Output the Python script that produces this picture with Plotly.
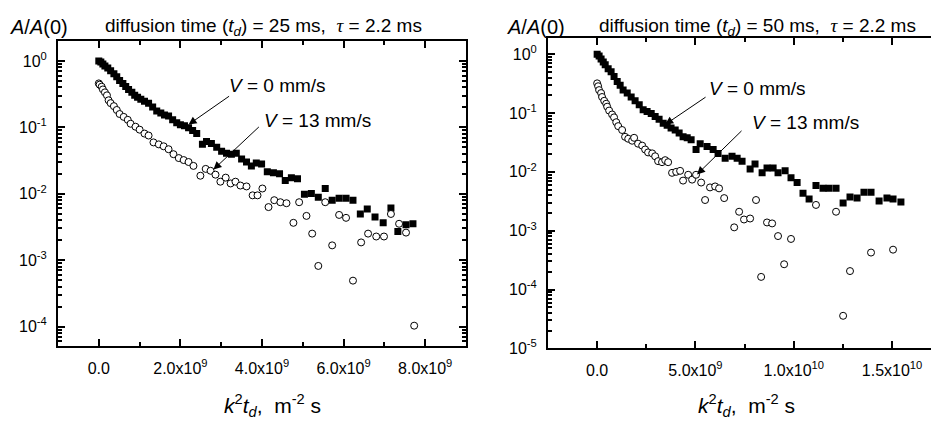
import numpy as np
import plotly.graph_objects as go

# ---------------- data (x in units of 1e9 m^-2 s) ----------------
# Left panel: t_d = 25 ms
left_v0_x = [0.00, 0.05, 0.10, 0.15, 0.22, 0.29, 0.37, 0.44, 0.51, 0.59, 0.66, 0.73, 0.81, 0.88, 0.95,
             1.03, 1.12, 1.22, 1.32, 1.42, 1.52, 1.61, 1.71, 1.81, 1.91, 2.00, 2.10, 2.20, 2.30, 2.40,
             2.54, 2.64, 2.76, 2.89, 3.01, 3.13, 3.25, 3.37, 3.50, 3.62, 3.74, 3.86, 3.99, 4.13, 4.28,
             4.43, 4.57, 4.72, 4.87, 5.04, 5.21, 5.38, 5.55, 5.72, 5.89, 6.06, 6.23, 6.41, 6.58, 6.77,
             6.97, 7.16, 7.33, 7.53, 7.70]
left_v0_y = [1.0, 0.967, 0.903, 0.844, 0.788, 0.712, 0.643, 0.581, 0.507, 0.457, 0.413, 0.373, 0.337, 0.304, 0.284,
             0.265, 0.248, 0.232, 0.202, 0.177, 0.165, 0.154, 0.149, 0.130, 0.117, 0.110, 0.106, 0.099, 0.0894, 0.0807,
             0.0555, 0.0615, 0.0574, 0.0501, 0.0438, 0.0409, 0.0395, 0.0409, 0.0333, 0.0301, 0.0263, 0.0291, 0.0281, 0.0214, 0.0207,
             0.0200, 0.0158, 0.0175, 0.0169, 0.0098, 0.0101, 0.00885, 0.0120, 0.0080, 0.00855, 0.00855, 0.0080, 0.00496, 0.00589, 0.00448,
             0.00365, 0.00608, 0.00269, 0.00341, 0.00353]

left_v13_x = [0.00, 0.02, 0.07, 0.10, 0.15, 0.20, 0.24, 0.29, 0.37, 0.44, 0.51, 0.61, 0.71, 0.78, 0.90,
              1.00, 1.12, 1.22, 1.34, 1.47, 1.59, 1.71, 1.83, 1.96, 2.08, 2.20, 2.32, 2.49, 2.62, 2.74,
              2.86, 2.98, 3.11, 3.23, 3.35, 3.47, 3.62, 3.77, 3.89, 4.01, 4.16, 4.30, 4.45, 4.60, 4.77,
              4.91, 5.09, 5.23, 5.38, 5.55, 5.72, 5.89, 6.06, 6.23, 6.43, 6.60, 6.80, 6.99, 7.16, 7.36,
              7.53, 7.73]
left_v13_y = [0.46, 0.44, 0.41, 0.373, 0.337, 0.304, 0.256, 0.232, 0.209, 0.183, 0.159, 0.144, 0.130, 0.1135, 0.1024,
              0.0925, 0.0807, 0.0754, 0.0594, 0.0555, 0.0519, 0.0469, 0.0395, 0.0345, 0.0322, 0.0301, 0.0263, 0.0187, 0.0237, 0.0222,
              0.0194, 0.0152, 0.0175, 0.0143, 0.0152, 0.0133, 0.0129, 0.00947, 0.00947, 0.0120, 0.0063, 0.0080, 0.00746, 0.0072, 0.00365,
              0.00746, 0.00464, 0.00251, 0.000818, 0.00746, 0.00167, 0.0048, 0.00434, 0.000491, 0.00185, 0.00251, 0.00227, 0.00227, 0.00496, 0.00353,
              0.0026, 0.000103]

# Right panel: t_d = 50 ms
right_v0_x = [0.00, 0.10, 0.20, 0.31, 0.41, 0.56, 0.71, 0.86, 1.02, 1.17, 1.32, 1.53, 1.73, 1.93, 2.14,
              2.34, 2.54, 2.75, 2.95, 3.15, 3.36, 3.56, 3.76, 3.97, 4.17, 4.37, 4.58, 4.78, 5.03, 5.24,
              5.59, 5.90, 6.15, 6.51, 6.86, 7.12, 7.37, 7.78, 8.03, 8.39, 8.64, 8.95, 9.20, 9.56, 9.86,
              10.17, 10.47, 10.78, 11.13, 11.49, 11.79, 12.15, 12.51, 12.86, 13.22, 13.57, 13.93, 14.34, 14.74, 15.05,
              15.45]
right_v0_y = [1.0, 0.927, 0.827, 0.738, 0.658, 0.565, 0.504, 0.417, 0.344, 0.296, 0.245, 0.218, 0.187, 0.161, 0.138,
              0.114, 0.106, 0.0981, 0.0875, 0.0781, 0.067, 0.0621, 0.0554, 0.0514, 0.0458, 0.0394, 0.0379, 0.0351, 0.024, 0.0301,
              0.0269, 0.024, 0.0206, 0.0170, 0.0184, 0.0170, 0.0152, 0.0112, 0.0136, 0.00962, 0.0116, 0.0116, 0.00962, 0.0104, 0.00796,
              0.00658, 0.00433, 0.00344, 0.00587, 0.00524, 0.00524, 0.00524, 0.00296, 0.00372, 0.00358, 0.0045, 0.0045, 0.00319, 0.00358, 0.00344,
              0.00308]

right_v13_x = [0.00, 0.05, 0.10, 0.20, 0.25, 0.36, 0.46, 0.51, 0.61, 0.76, 0.86, 0.97, 1.07, 1.27, 1.42,
               1.58, 1.78, 1.88, 2.08, 2.29, 2.44, 2.59, 2.80, 2.95, 3.10, 3.30, 3.46, 3.61, 3.81, 4.02,
               4.22, 4.37, 4.63, 4.83, 5.03, 5.29, 5.49, 5.74, 6.00, 6.20, 6.46, 6.97, 7.22, 7.47, 7.78,
               8.08, 8.34, 8.64, 8.90, 9.20, 9.51, 9.86, 11.13, 12.15, 12.51, 12.86, 13.93, 15.05]
right_v13_y = [0.319, 0.285, 0.245, 0.218, 0.187, 0.161, 0.1436, 0.128, 0.110, 0.0944, 0.0843, 0.0697, 0.0598, 0.0514, 0.0394,
               0.0365, 0.0338, 0.0379, 0.0301, 0.0279, 0.024, 0.0214, 0.0206, 0.0184, 0.0152, 0.0146, 0.0158, 0.0146, 0.00962, 0.0100,
               0.0104, 0.0071, 0.00892, 0.00738, 0.00892, 0.00658, 0.00332, 0.00544, 0.00565, 0.00524, 0.00358, 0.00114, 0.0021, 0.00155, 0.00161,
               0.00332, 0.000164, 0.00138, 0.00133, 0.00081, 0.000269, 0.000724, 0.00274, 0.0021, 0.0000358, 0.000206, 0.000425, 0.000476]

left_xticks = [0, 2e9, 4e9, 6e9, 8e9]
left_xticktext = ["0.0", "2.0x10<sup>9</sup>", "4.0x10<sup>9</sup>", "6.0x10<sup>9</sup>", "8.0x10<sup>9</sup>"]
left_xminor = [-1e9, 1e9, 3e9, 5e9, 7e9, 9e9]
right_xticks = [0, 5e9, 1e10, 1.5e10]
right_xticktext = ["0.0", "5.0x10<sup>9</sup>", "1.0x10<sup>10</sup>", "1.5x10<sup>10</sup>"]
right_xminor = [-2.5e9, 2.5e9, 7.5e9, 1.25e10]
left_yticks = [1, 1e-1, 1e-2, 1e-3, 1e-4]
left_yticktext = ["10<sup>0</sup>", "10<sup>-1</sup>", "10<sup>-2</sup>", "10<sup>-3</sup>", "10<sup>-4</sup>"]
right_yticks = [1, 1e-1, 1e-2, 1e-3, 1e-4, 1e-5]
right_yticktext = ["10<sup>0</sup>", "10<sup>-1</sup>", "10<sup>-2</sup>", "10<sup>-3</sup>", "10<sup>-4</sup>", "10<sup>-5</sup>"]
minor_digits = [2, 3, 4, 5, 6, 7, 8, 9]
log_decades = [-5, -4, -3, -2, -1, 0]
y_minor = [d * 10.0 ** e for e in log_decades for d in minor_digits]

FONT = "Liberation Sans, Arial, sans-serif"
W, H = 931, 421

fig = go.Figure()

def add_series(x, y, xa, ya, filled):
    x = np.array(x) * 1e9
    if filled:
        marker = dict(symbol="square", size=7, color="black", line=dict(width=0))
    else:
        marker = dict(symbol="circle", size=7, color="white", line=dict(width=1, color="black"))
    fig.add_trace(go.Scatter(x=x, y=y, mode="markers", marker=marker, xaxis=xa, yaxis=ya,
                             showlegend=False, hoverinfo="skip"))

add_series(left_v0_x, left_v0_y, "x", "y", True)
add_series(left_v13_x, left_v13_y, "x", "y", False)
add_series(right_v0_x, right_v0_y, "x2", "y2", True)
add_series(right_v13_x, right_v13_y, "x2", "y2", False)

axis_common = dict(showgrid=False, zeroline=False, showline=True, linecolor="black", linewidth=2,
                   ticks="inside", ticklen=7, tickwidth=2, tickcolor="black",
                   tickfont=dict(family=FONT, size=16, color="black"))
minor_common = dict(ticks="inside", ticklen=4, tickwidth=1.5, tickcolor="black", showgrid=False)

fig.update_layout(
    width=W, height=H, margin=dict(l=0, r=0, t=0, b=0),
    paper_bgcolor="white", plot_bgcolor="white",
    xaxis=dict(**axis_common, domain=[58 / W, 466 / W], range=[-1e9, 9e9], anchor="y",
               tickmode="array", tickvals=left_xticks, ticktext=left_xticktext, mirror="ticks",
               minor=dict(**minor_common, tickmode="array", tickvals=left_xminor),
               ticklabelstandoff=6),
    yaxis=dict(**axis_common, type="log", domain=[(H - 354) / H, (H - 42) / H], range=[-4.3, 0.3], anchor="x",
               tickmode="array", tickvals=left_yticks, ticktext=left_yticktext, mirror="ticks",
               minor=dict(**minor_common, tickmode="array", tickvals=y_minor),
               ticklabelstandoff=6),
    xaxis2=dict(**axis_common, domain=[548 / W, 1.0], range=[-2.5e9, 16.98e9], anchor="y2",
                tickmode="array", tickvals=right_xticks, ticktext=right_xticktext, mirror="ticks",
                minor=dict(**minor_common, tickmode="array", tickvals=right_xminor),
                ticklabelstandoff=6),
    yaxis2=dict(**axis_common, type="log", domain=[(H - 356) / H, (H - 38.5) / H], range=[-5, 0.28], anchor="x2",
                tickmode="array", tickvals=right_yticks, ticktext=right_yticktext, mirror=False,
                minor=dict(**minor_common, tickmode="array", tickvals=y_minor),
                ticklabelstandoff=6),
)

tau = "<span style=\"font-family:'Liberation Serif', 'Times New Roman', serif\"><i>τ</i></span>"
ann = []
def title_text(td):
    return f"diffusion time (<i>t</i><sub><i>d</i></sub>) = {td} ms,  {tau} = 2.2 ms"

for x0, x1, td in [(8, 103, 25), (505, 597, 50)]:
    ann.append(dict(text="<i>A</i>/<i>A</i>(0)", x=x0 / W, y=(H - 28) / H, xref="paper", yref="paper",
                    xanchor="left", yanchor="middle", showarrow=False, font=dict(family=FONT, size=20, color="black")))
    ann.append(dict(text=title_text(td), x=x1 / W, y=(H - 28) / H, xref="paper", yref="paper",
                    xanchor="left", yanchor="middle", showarrow=False, font=dict(family=FONT, size=19, color="black")))

xtitle = "<i>k</i><sup>2</sup><i>t</i><sub><i>d</i></sub>,  m<sup>-2</sup> s"
for xc in [272, 746]:
    ann.append(dict(text=xtitle, x=xc / W, y=(H - 414) / H, xref="paper", yref="paper",
                    xanchor="center", yanchor="middle", showarrow=False, font=dict(family=FONT, size=21, color="black")))

# V labels and arrows (data coordinates; y in log10 units)
labels = [
    ("x", "y", "<i>V</i> = 0 mm/s", 3.15e9, -0.368, (3.23e9, -0.515), (2.20e9, -0.957)),
    ("x", "y", "<i>V</i> = 13 mm/s", 4.0e9, -0.898, (3.96e9, -0.972), (2.81e9, -1.635)),
    ("x2", "y2", "<i>V</i> = 0 mm/s", 5.6e9, -0.581, (5.59e9, -0.714), (3.46e9, -1.196)),
    ("x2", "y2", "<i>V</i> = 13 mm/s", 7.75e9, -1.163, (7.42e9, -1.279), (5.08e9, -2.043)),
]
for xr, yr, txt, tx, ty, tail, tip in labels:
    ann.append(dict(text=txt, x=tx, y=ty, xref=xr, yref=yr, xanchor="left", yanchor="middle",
                    showarrow=False, font=dict(family=FONT, size=19, color="black")))
    ann.append(dict(text="", x=tip[0], y=tip[1], xref=xr, yref=yr, ax=tail[0], ay=tail[1],
                    axref=xr, ayref=yr, showarrow=True, arrowhead=2, arrowsize=1.6, arrowwidth=1,
                    arrowcolor="black", standoff=0, startstandoff=0))

fig.update_layout(annotations=ann)
fig.write_html("out.html", config={"displayModeBar": False})
